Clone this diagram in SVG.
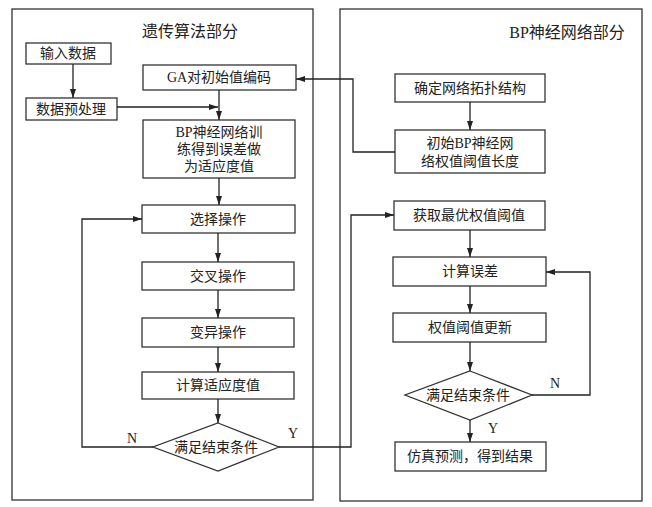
<svg xmlns="http://www.w3.org/2000/svg" width="652" height="507" viewBox="0 0 652 507">
<defs>
<marker id="ah" markerWidth="9" markerHeight="6" refX="9" refY="3" orient="auto" markerUnits="userSpaceOnUse">
<path d="M0,0 L9,3 L0,6 Z" fill="#222"/>
</marker>
<style>
.panel{fill:none;stroke:#333;stroke-width:1.3}
.box{fill:#fff;stroke:#333;stroke-width:1.3}
.t{font-family:"Liberation Serif","Noto Sans CJK SC",serif;font-size:14px;fill:#222;text-anchor:middle;dominant-baseline:central}
.title{font-family:"Liberation Serif","Noto Sans CJK SC",serif;font-size:16px;fill:#222;text-anchor:middle;dominant-baseline:central}
.lbl{font-family:"Liberation Serif",serif;font-size:14px;fill:#222;text-anchor:middle;dominant-baseline:central}
.c{fill:none;stroke:#222;stroke-width:1.3}
.ca{fill:none;stroke:#222;stroke-width:1.3;marker-end:url(#ah)}
</style>
</defs>
<rect width="652" height="507" fill="#fff"/>
<g id="panel-ga"><rect class="panel" x="12" y="9" width="301" height="491"/><text class="title" x="190" y="31">遗传算法部分</text></g>
<g id="panel-bp"><rect class="panel" x="340" y="9" width="302" height="492"/><text class="title" x="567" y="32">BP神经网络部分</text></g>
<g id="n-input"><rect class="box" x="26" y="43" width="85" height="21"/><text class="t" x="68" y="53.5">输入数据</text></g>
<g id="n-pre"><rect class="box" x="26" y="98" width="91" height="22"/><text class="t" x="71" y="109">数据预处理</text></g>
<g id="n-ga"><rect class="box" x="143" y="65" width="153" height="25"/><text class="t" x="219" y="77.5">GA对初始值编码</text></g>
<g id="n-bptrain"><rect class="box" x="143" y="120" width="152" height="58"/><text class="t" x="219" y="132">BP神经网络训</text><text class="t" x="219" y="149">练得到误差做</text><text class="t" x="219" y="166">为适应度值</text></g>
<g id="n-sel"><rect class="box" x="142" y="205" width="153" height="28"/><text class="t" x="218" y="219">选择操作</text></g>
<g id="n-cross"><rect class="box" x="142" y="262" width="152" height="28"/><text class="t" x="218" y="276">交叉操作</text></g>
<g id="n-mut"><rect class="box" x="142" y="318" width="152" height="29"/><text class="t" x="218" y="332.5">变异操作</text></g>
<g id="n-fit"><rect class="box" x="142" y="372" width="152" height="27"/><text class="t" x="218" y="385.5">计算适应度值</text></g>
<g id="n-dec1"><polygon class="box" points="218,423 279,447 218,471 153,447"/><text class="t" x="216" y="447">满足结束条件</text></g>
<g id="n-topo"><rect class="box" x="395" y="74" width="150" height="28"/><text class="t" x="470" y="88">确定网络拓扑结构</text></g>
<g id="n-init"><rect class="box" x="395" y="130" width="150" height="43"/><text class="t" x="470" y="143">初始BP神经网</text><text class="t" x="470" y="161">络权值阈值长度</text></g>
<g id="n-best"><rect class="box" x="394" y="201" width="151" height="29"/><text class="t" x="469" y="215.5">获取最优权值阈值</text></g>
<g id="n-err"><rect class="box" x="393" y="257" width="153" height="29"/><text class="t" x="470" y="271.5">计算误差</text></g>
<g id="n-upd"><rect class="box" x="393" y="313" width="153" height="29"/><text class="t" x="470" y="327.5">权值阈值更新</text></g>
<g id="n-dec2"><polygon class="box" points="470,371 532,395 470,420 405,395"/><text class="t" x="468" y="395">满足结束条件</text></g>
<g id="n-sim"><rect class="box" x="395" y="442" width="151" height="29"/><text class="t" x="470" y="456.5">仿真预测，得到结果</text></g>
<g id="connectors">
<path class="ca" d="M73,64 V98"/>
<path class="ca" d="M219,90 V120"/>
<path class="ca" d="M117,107 H218"/>
<path class="ca" d="M219,178 V205"/>
<path class="ca" d="M218,233 V262"/>
<path class="ca" d="M218,290 V318"/>
<path class="ca" d="M218,347 V372"/>
<path class="ca" d="M218,399 V423"/>
<path class="ca" d="M153,447 H82 V219 H142"/>
<path class="ca" d="M279,447 H351 V215 H394"/>
<path class="ca" d="M470,102 V130"/>
<path class="ca" d="M395,152 H353 V79 H296"/>
<path class="ca" d="M470,230 V257"/>
<path class="ca" d="M470,286 V313"/>
<path class="ca" d="M470,342 V371"/>
<path class="ca" d="M532,395 H590 V272 H546"/>
<path class="ca" d="M470,420 V442"/>
<text class="lbl" x="132" y="438">N</text>
<text class="lbl" x="293" y="433">Y</text>
<text class="lbl" x="555" y="383">N</text>
<text class="lbl" x="493" y="428">Y</text>
</g>
</svg>
